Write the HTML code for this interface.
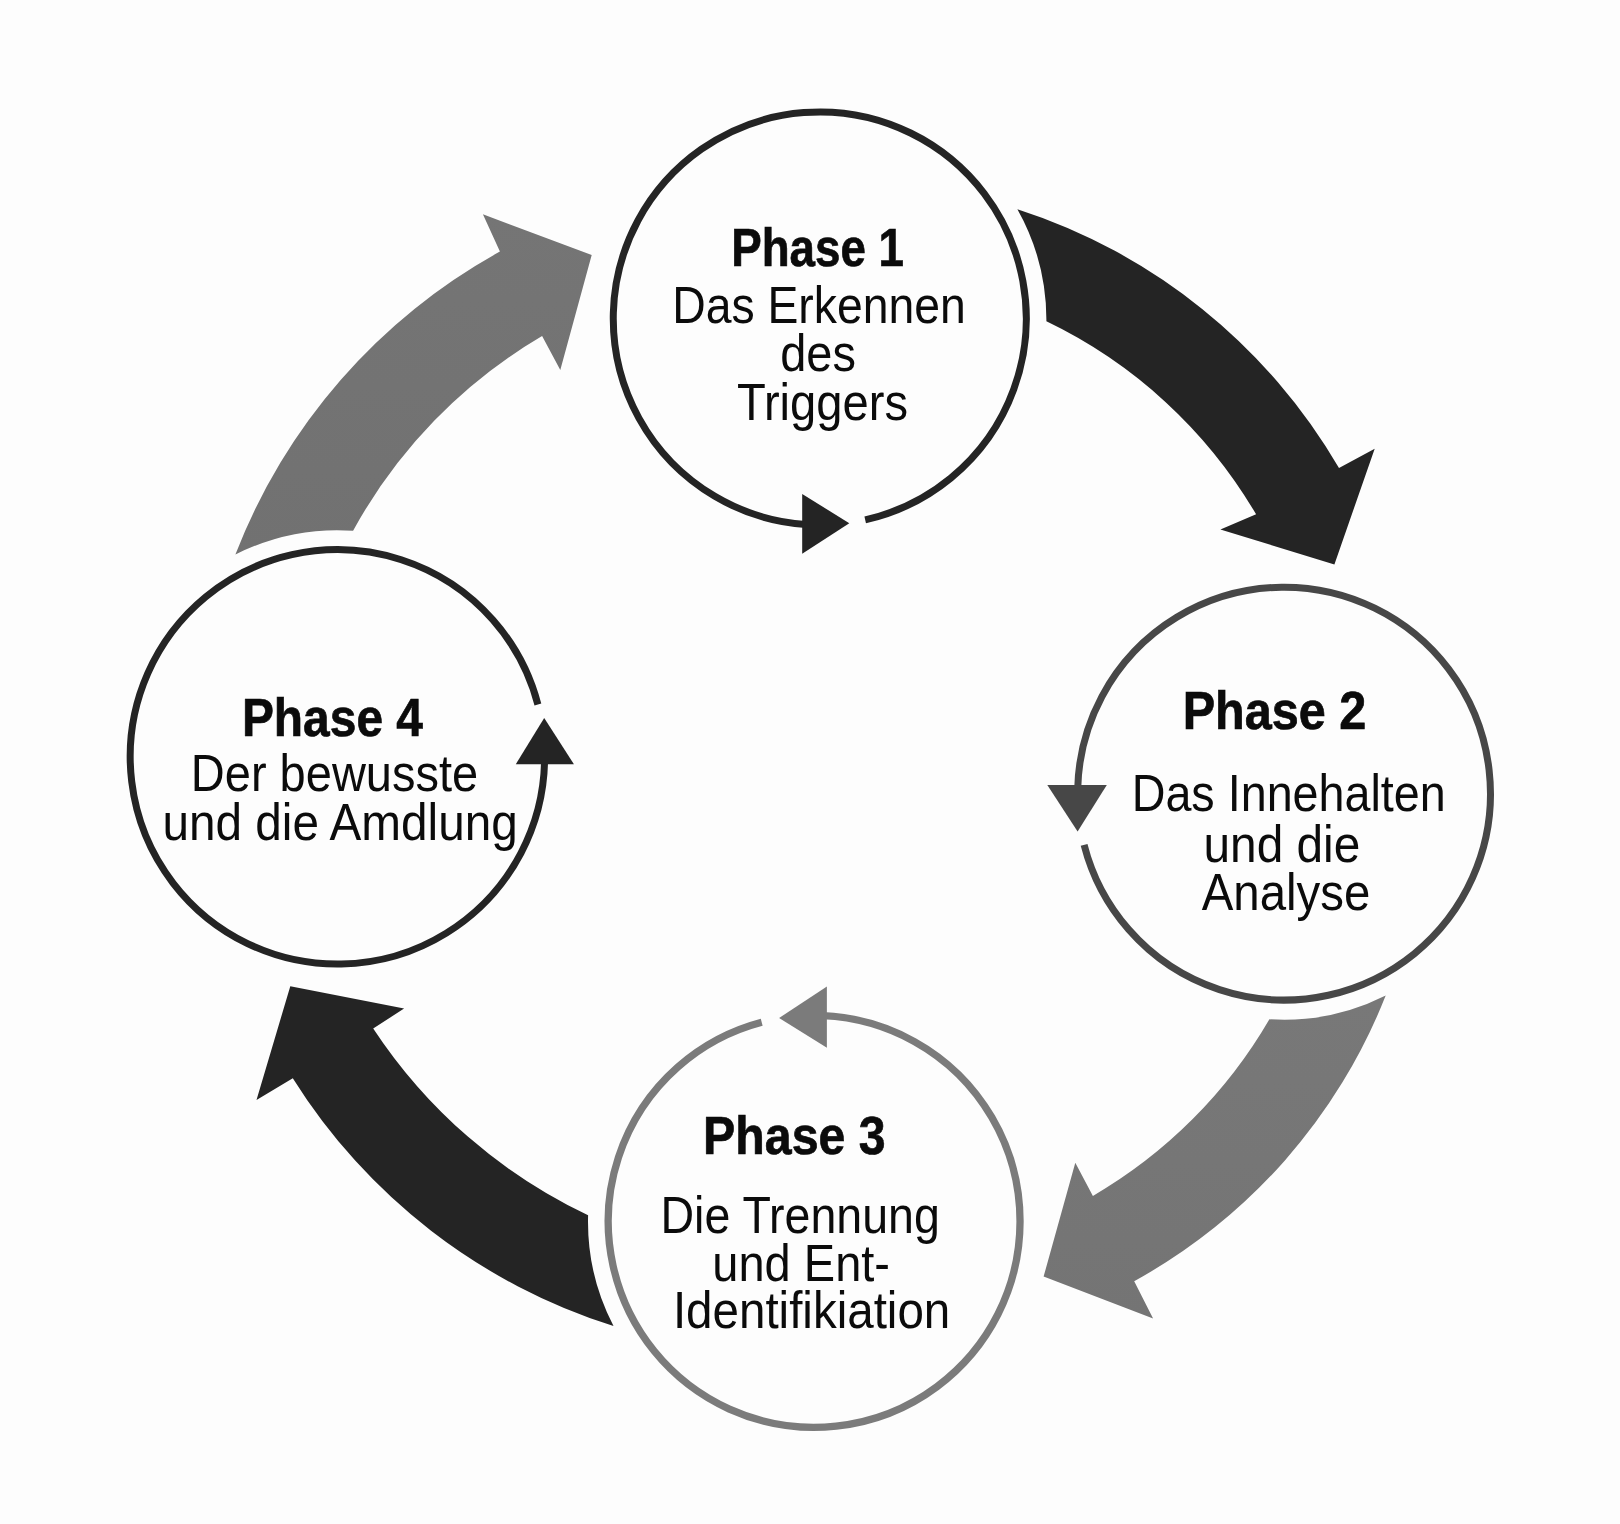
<!DOCTYPE html>
<html lang="de"><head><meta charset="utf-8"><title>Phasen-Zyklus</title>
<style>
html,body{margin:0;padding:0;background:#fdfdfd;}
body{width:1620px;height:1524px;overflow:hidden;font-family:"Liberation Sans",sans-serif;}
svg{display:block;}
</style></head><body>
<svg width="1620" height="1524" viewBox="0 0 1620 1524">
<defs>
<linearGradient id="g2" gradientUnits="userSpaceOnUse" x1="0" y1="1000" x2="0" y2="1320"><stop offset="0" stop-color="#787878"/><stop offset="1" stop-color="#747474"/></linearGradient>
<linearGradient id="g4" gradientUnits="userSpaceOnUse" x1="0" y1="215" x2="0" y2="555"><stop offset="0" stop-color="#757575"/><stop offset="1" stop-color="#717171"/></linearGradient>
</defs>
<rect width="1620" height="1524" fill="#fdfdfd"/>
<path d="M1017.4 209.2 A576.6 576.6 0 0 1 1339.0 468.1 L1374.7 448.7 L1334.4 564.4 L1220.4 529.5 L1256.1 514.3 A487.5 487.5 0 0 0 1046.4 321.3 A226.6 226.6 0 0 0 1017.4 209.2 Z" fill="#242424"/>
<path d="M1385.7 995.6 A561.0 561.0 0 0 1 1134.2 1281.2 L1153.1 1318.5 L1043.6 1276.6 L1075.3 1162.8 L1092.9 1195.9 A486.7 486.7 0 0 0 1269.4 1019.3 A226.5 226.5 0 0 0 1385.7 995.6 Z" fill="url(#g2)"/>
<path d="M613.5 1326.0 A586.0 586.0 0 0 1 292.8 1078.2 L256.5 1100.0 L290.3 986.2 L404.1 1008.6 L373.2 1028.4 A529.0 529.0 0 0 0 588.1 1215.3 A226.5 226.5 0 0 0 613.5 1326.0 Z" fill="#242424"/>
<path d="M235.4 554.6 A586.6 586.6 0 0 1 499.9 251.6 L482.9 214.3 L591.7 254.9 L560.3 370.0 L542.1 336.0 A510.1 510.1 0 0 0 353.1 530.7 A226.5 226.5 0 0 0 235.4 554.6 Z" fill="url(#g4)"/>
<path d="M865.2 519.9 A206.5 206.5 0 1 0 806.0 524.5" fill="none" stroke="#242424" stroke-width="7.0"/>
<polygon points="802.2,494.0 802.2,553.8 849.3,523.2" fill="#242424"/>
<path d="M1084.1 844.8 A206.4 206.4 0 1 0 1077.7 789.0" fill="none" stroke="#474747" stroke-width="7.0"/>
<polygon points="1047.3,785.0 1106.8,785.0 1077.6,831.5" fill="#474747"/>
<path d="M761.7 1022.3 A205.9 205.9 0 1 0 823.0 1015.7" fill="none" stroke="#7b7b7b" stroke-width="7.3"/>
<polygon points="826.9,986.4 826.9,1047.8 779.1,1018.0" fill="#7b7b7b"/>
<path d="M537.9 704.5 A207.2 207.2 0 1 0 544.6 760.0" fill="none" stroke="#242424" stroke-width="7.0"/>
<polygon points="515.8,764.2 573.9,764.2 544.2,718.0" fill="#242424"/>
<g font-family="'Liberation Sans', sans-serif" fill="#0b0b0b" style="filter:grayscale(1)">
<text x="731.2" y="265.9" font-size="54.2" font-weight="700" stroke="#0b0b0b" stroke-width="0.7" textLength="172.8" lengthAdjust="spacingAndGlyphs">Phase 1</text>
<text x="672.2" y="322.6" font-size="51.7" font-weight="400" textLength="293.6" lengthAdjust="spacingAndGlyphs">Das Erkennen</text>
<text x="780.2" y="371.3" font-size="51.7" font-weight="400" textLength="75.7" lengthAdjust="spacingAndGlyphs">des</text>
<text x="736.9" y="419.8" font-size="51.7" font-weight="400" textLength="171.1" lengthAdjust="spacingAndGlyphs">Triggers</text>
<text x="1182.7" y="728.5" font-size="54.2" font-weight="700" stroke="#0b0b0b" stroke-width="0.7" textLength="183.7" lengthAdjust="spacingAndGlyphs">Phase 2</text>
<text x="1131.7" y="811.0" font-size="51.7" font-weight="400" textLength="314.1" lengthAdjust="spacingAndGlyphs">Das Innehalten</text>
<text x="1203.5" y="861.6" font-size="51.7" font-weight="400" textLength="156.8" lengthAdjust="spacingAndGlyphs">und die</text>
<text x="1201.7" y="910.1" font-size="51.7" font-weight="400" textLength="168.6" lengthAdjust="spacingAndGlyphs">Analyse</text>
<text x="703.1" y="1153.5" font-size="54.2" font-weight="700" stroke="#0b0b0b" stroke-width="0.7" textLength="182.5" lengthAdjust="spacingAndGlyphs">Phase 3</text>
<text x="660.5" y="1232.9" font-size="51.7" font-weight="400" textLength="279.3" lengthAdjust="spacingAndGlyphs">Die Trennung</text>
<text x="712.3" y="1281.4" font-size="51.7" font-weight="400" textLength="177.7" lengthAdjust="spacingAndGlyphs">und Ent-</text>
<text x="672.9" y="1328.2" font-size="51.7" font-weight="400" textLength="277.4" lengthAdjust="spacingAndGlyphs">Identifikiation</text>
<text x="241.9" y="736.2" font-size="54.2" font-weight="700" stroke="#0b0b0b" stroke-width="0.7" textLength="181.1" lengthAdjust="spacingAndGlyphs">Phase 4</text>
<text x="190.8" y="791.3" font-size="51.7" font-weight="400" textLength="287.4" lengthAdjust="spacingAndGlyphs">Der bewusste</text>
<text x="162.5" y="839.9" font-size="51.7" font-weight="400" textLength="355.2" lengthAdjust="spacingAndGlyphs">und die Amdlung</text>
</g>
</svg>
</body></html>
